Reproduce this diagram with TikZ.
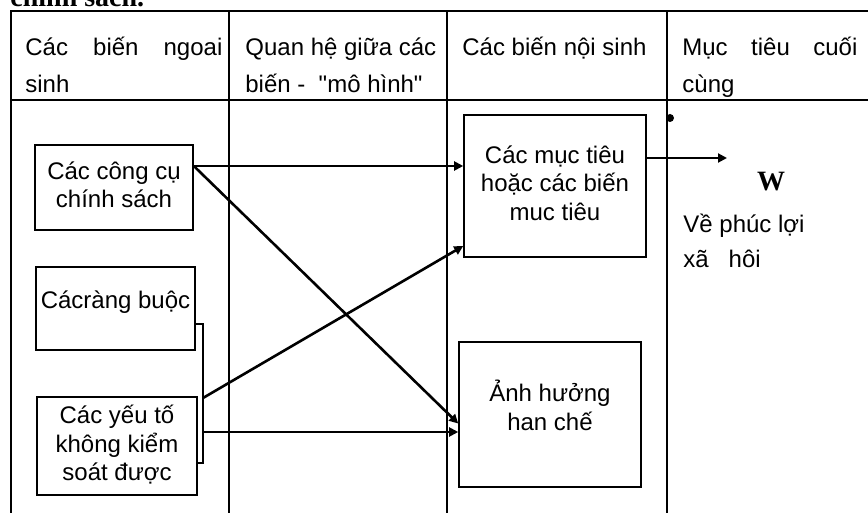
\documentclass[tikz,border=0pt]{standalone}
\usepackage{fontspec}
\setmainfont{Liberation Sans}[Ligatures=TeXOff]
\newfontfamily\serifbold{Liberation Serif}
\usetikzlibrary{arrows.meta}
% fixed-height struts so that text blocks sit at predictable baselines
\newcommand\topstrut{\rule{0pt}{12pt}}
\newcommand\botstrut[1]{\rule[-#1]{0pt}{#1}}
\begin{document}
\begin{tikzpicture}[x=0.5pt,y=-0.5pt,
  tline/.style={line width=1pt},
  cline/.style={line width=0.8pt},
  varbox/.style={draw,line width=0.8pt,inner sep=0pt,align=center,
    font=\fontsize{12pt}{14.25pt}\selectfont},
  headtext/.style={inner sep=0pt,anchor=north west,align=left,
    font=\fontsize{12pt}{18.75pt}\selectfont},
  link/.style={line width=1pt},
  arr/.style={link,-{Triangle[length=4.5pt,width=4.5pt]}}]
\useasboundingbox (0,0) rectangle (868,513);
\fill[white] (0,0) rectangle (868,513);
\begin{scope}
\clip (0,0) rectangle (868,513);

% caption line above the table
\node[inner sep=0pt,anchor=base west,font=\serifbold\bfseries\fontsize{14pt}{16pt}\selectfont]
  (cap) at (10,7) {chính sách.};

% table frame
\draw[tline] (11,513) -- (11,11) -- (868,11);
\draw[tline] (11,100) -- (868,100);
\draw[cline] (229,11) -- (229,513);
\draw[cline] (447,11) -- (447,513);
\draw[cline] (667,11) -- (667,513);
\fill (670,118) circle[radius=2pt];

% column headings
\node[headtext] (h1) at (25,31)
  {\topstrut\makebox[98.5pt][s]{Các biến ngoai}\\sinh};
\node[headtext] (h2) at (245,31)
  {\topstrut Quan hệ giữa các\\biến -\ \ "mô hình"};
\node[headtext] (h3) at (462,31)
  {\topstrut Các biến nội sinh};
\node[headtext] (h4) at (682,31)
  {\topstrut\makebox[87.5pt][s]{Mục tiêu cuối}\\cùng};

% variable boxes
\node[varbox,minimum width=79pt,minimum height=42.5pt] (b1) at (114,187.5)
  {\topstrut Các công cụ\\chính sách\botstrut{6pt}};
\node[varbox,minimum width=79.5pt,minimum height=41.5pt] (b2) at (115.5,308.5)
  {\topstrut Cácràng buộc\botstrut{12pt}};
\node[varbox,minimum width=80pt,minimum height=49pt] (b3) at (117,446)
  {\topstrut Các yếu tố\\không kiểm\\soát được\botstrut{6pt}};
\node[varbox,minimum width=91pt,minimum height=71pt] (b4) at (555,186)
  {\topstrut Các mục tiêu\\hoặc các biến\\muc tiêu\botstrut{6pt}};
\node[varbox,minimum width=91pt,minimum height=72.5pt] (b5) at (550,414.5)
  {\topstrut Ảnh hưởng\\han chế\botstrut{10.5pt}};

% final goal
\node[inner sep=0pt,font=\serifbold\bfseries\fontsize{14pt}{16pt}\selectfont]
  (w) at (771,182) {W};
\node[inner sep=0pt,anchor=north west,align=left,
  font=\fontsize{12pt}{17.5pt}\selectfont] (wl) at (683,208)
  {\topstrut Về phúc lợi\\xã\ \ \ hôi};

% bracket joining constraints and uncontrolled factors
\coordinate (brt) at (203,324);
\coordinate (brb) at (203,463);
\coordinate (bra) at (203,398);
\coordinate (brc) at (203,432);
\draw[link] (b2.east |- brt) -- (brt) -- (brb) -- (b3.east |- brb);

% connectors
\coordinate (s1) at ([yshift=10.75pt]b1.east);
\draw[arr] (s1) -- (s1 -| b4.west);
\draw[arr,line width=1.3pt] (s1) -- ([yshift=-4.5pt]b5.west);
\draw[arr,line width=1.3pt] (bra) -- ([yshift=-30pt]b4.west);
\draw[arr] (brc) -- (brc -| b5.west);
\coordinate (s4) at ([yshift=14pt]b4.east);
\coordinate (wt) at (727,158);
\draw[arr] (s4) -- (wt);
\end{scope}
\end{tikzpicture}
\end{document}
